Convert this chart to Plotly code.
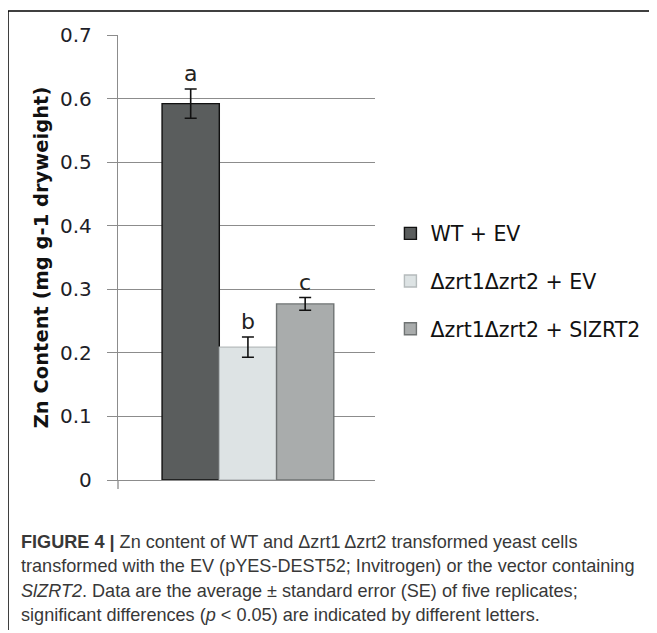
import plotly.graph_objects as go

# ---- data ----
categories = ["WT + EV", "Δzrt1Δzrt2 + EV", "Δzrt1Δzrt2 + SlZRT2"]
zn_content = [0.592, 0.209, 0.277]
zn_se = [0.023, 0.016, 0.010]
sig_letters = ["a", "b", "c"]
tick_values = [0, 0.1, 0.2, 0.3, 0.4, 0.5, 0.6, 0.7]
tick_labels = ["0", "0.1", "0.2", "0.3", "0.4", "0.5", "0.6", "0.7"]
caption_lines = [
    "<b>FIGURE 4 |</b> Zn content of WT and Δzrt1\u2009Δzrt2 transformed yeast cells",
    "transformed with the EV (pYES-DEST52; Invitrogen) or the vector containing",
    "<i>SlZRT2</i>. Data are the average ± standard error (SE) of five replicates;",
    "significant differences (<i>p</i> &lt; 0.05) are indicated by different letters.",
]

fill_colors = ["#5A5D5D", "#DDE3E4", "#A9ACAC"]
line_colors = ["#111111", "#B5BBBC", "#6F7373"]

fig = go.Figure()
for i, (name, v, e) in enumerate(zip(categories, zn_content, zn_se)):
    fig.add_trace(go.Bar(
        x=[i], y=[v], name=name, width=1,
        marker=dict(color=fill_colors[i], line=dict(color=line_colors[i], width=1.4)),
        error_y=dict(type="data", array=[e], color="#111111", thickness=1.6, width=6),
        legendgroup=f"g{i}",
    ))
    fig.add_annotation(
        x=i, y=v + e, xref="x", yref="y", text=sig_letters[i], showarrow=False,
        yanchor="bottom", yshift=1,
        font=dict(family="DejaVu Sans", size=22, color="#222222"),
    )

# caption
cap_y = [-0.139, -0.194, -0.249, -0.303]
for t, yy in zip(caption_lines, cap_y):
    fig.add_annotation(
        x=-0.385, y=yy, xref="paper", yref="paper", xanchor="left", yanchor="middle",
        text=t, showarrow=False, align="left",
        font=dict(family="Liberation Sans", size=18.1, color="#383838"),
    )

# frame lines
fig.add_shape(type="line", xref="paper", yref="paper", x0=-0.428, x1=2.2, y0=1.054, y1=1.054,
              line=dict(color="black", width=1.5))
fig.add_shape(type="line", xref="paper", yref="paper", x0=-0.428, x1=-0.428, y0=1.054, y1=-0.337,
              line=dict(color="black", width=1.5))
# y axis line extension below zero (Excel-style cross tick)
fig.add_shape(type="line", xref="paper", yref="paper", x0=0, x1=0, y0=0, y1=-0.02,
              line=dict(color="#8C8C8C", width=1.3))

fig.update_layout(
    width=649, height=625,
    margin=dict(l=110, r=282, t=27, b=153),
    plot_bgcolor="white", paper_bgcolor="white",
    barmode="overlay",
    showlegend=True,
    legend=dict(
        x=1.06, y=0.447, xanchor="left", yanchor="middle",
        font=dict(family="DejaVu Sans", size=20.5, color="#111111"),
        tracegroupgap=18, itemwidth=30, bgcolor="rgba(0,0,0,0)",
    ),
    xaxis=dict(
        range=[-1.27, 3.22], showticklabels=False, showgrid=False, zeroline=False,
        showline=True, linecolor="#8C8C8C", linewidth=1.3, ticks="",
    ),
    yaxis=dict(
        range=[0, 0.7], tickvals=tick_values, ticktext=tick_labels,
        showgrid=True, gridcolor="#8C8C8C", gridwidth=1.3, zeroline=False,
        showline=True, linecolor="#8C8C8C", linewidth=1.3,
        ticks="outside", ticklen=10, tickcolor="#8C8C8C", tickwidth=1.3,
        ticklabelstandoff=11,
        tickfont=dict(family="DejaVu Sans", size=20, color="#1E1E28"),
        title=dict(text="<b>Zn Content (mg g-1 dryweight)</b>", standoff=6,
                   font=dict(family="DejaVu Sans", size=19.5, color="#111111")),
    ),
)

fig.write_html("out.html")
